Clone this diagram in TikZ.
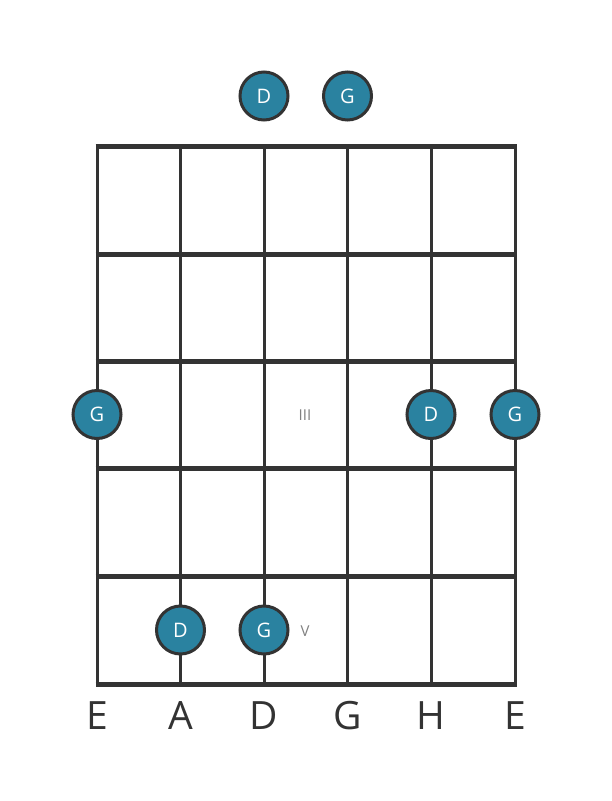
\documentclass[tikz,border=0pt]{standalone}
\usepackage{fontspec}
\setmainfont{Open Sans}
\usepackage{tikz}
\usetikzlibrary{calc}
\definecolor{dotblue}{RGB}{42,130,160}
\definecolor{gridgray}{RGB}{51,51,51}
\tikzset{
  note/.style={circle, draw=gridgray, line width=3pt, fill=dotblue, text=white,
    minimum size=48pt, inner sep=0pt, font=\fontsize{20}{20}\selectfont},
  fretnum/.style={text=gray, font=\fontsize{15}{15}\selectfont},
  tuning/.style={text=gridgray, font=\fontsize{39}{39}\selectfont}
}
\begin{document}
\begin{tikzpicture}[x=1pt, y=-1pt]
\useasboundingbox (0,0) rectangle (611,801);
% strings
\foreach \s/\x in {1/97,2/180.5,3/264,4/347.5,5/431,6/515}
  \draw[gridgray, line width=3pt] (\x,146) coordinate (s\s top) -- (\x,684) coordinate (s\s bot);
% frets
\foreach \f/\y in {0/146.5,1/254,2/361,3/468,4/576,5/684}
  \draw[gridgray, line width=5pt] (95.5,\y) -- (516.5,\y);
% fret numbers
\node[fretnum] (III) at (305,415) {III};
\node[fretnum] (V) at (305,631) {V};
% notes
\node[note] (o4) at (264,96) {D};
\node[note] (o5) at (347.5,96) {G};
\node[note] (f3s1) at (97,414.5) {G};
\node[note] (f3s5) at (431,414.5) {D};
\node[note] (f3s6) at (515,414.5) {G};
\node[note] (f5s2) at (180.5,630) {D};
\node[note] (f5s3) at (264,630) {G};
% tuning
\foreach \s/\x/\n in {1/97/E,2/180.5/A,3/264/D,4/347.5/G,5/431/H,6/515/E}
  \node[tuning] (t\s) at (\x,716) {\n};
\end{tikzpicture}
\end{document}
